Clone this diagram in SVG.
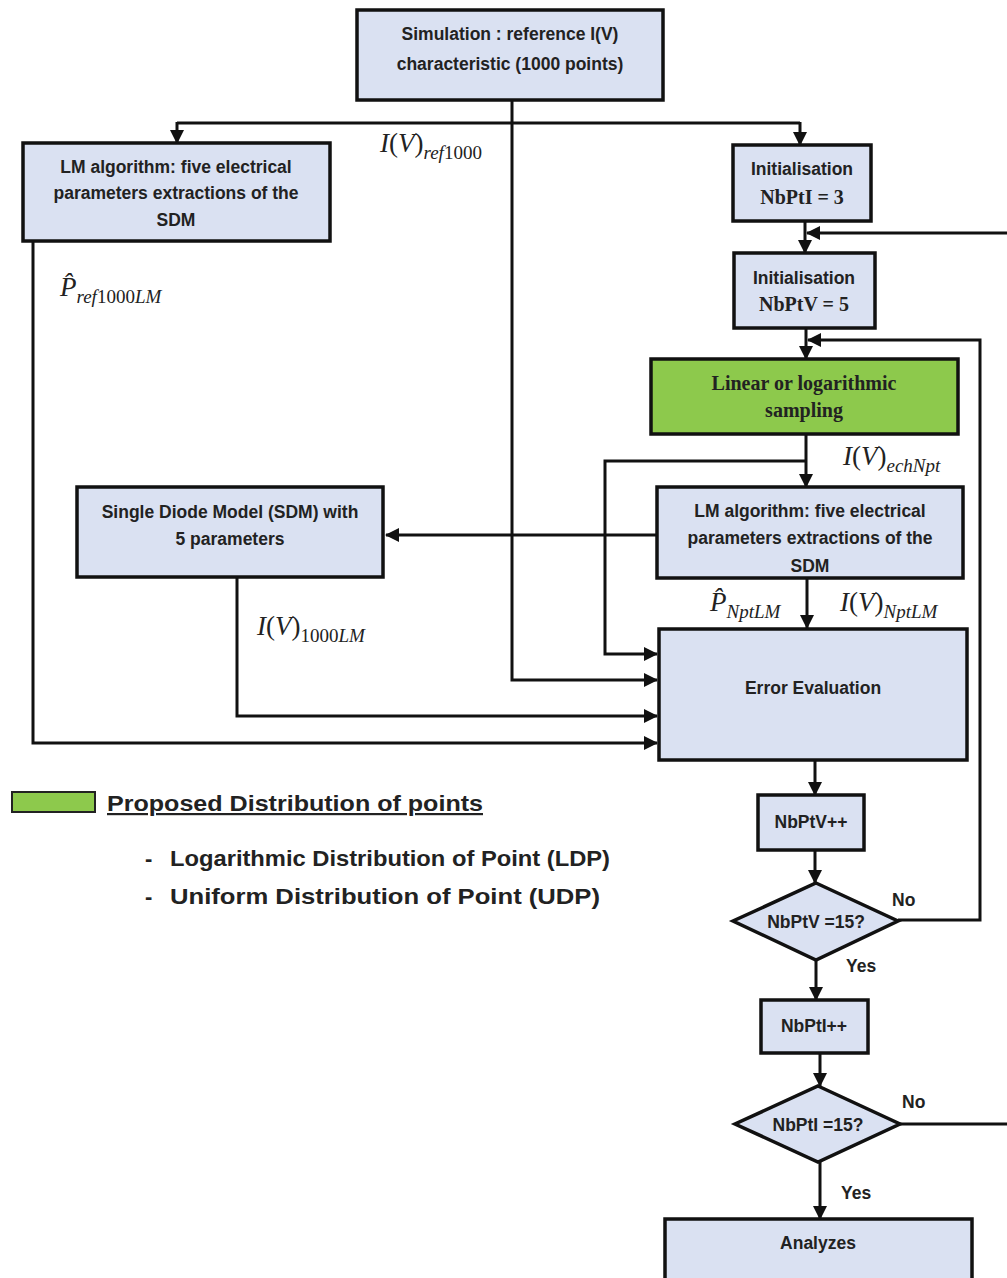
<svg xmlns="http://www.w3.org/2000/svg" width="1007" height="1278" viewBox="0 0 1007 1278">
<style>
.box{fill:#dae1f2;stroke:#111;stroke-width:3.5}
.green{fill:#8dc94c;stroke:#111;stroke-width:3.5}
.t{font-family:"Liberation Sans",Arial,sans-serif;font-weight:bold;font-size:17.5px;fill:#222;text-anchor:middle}
.s{font-family:"Liberation Serif","Times New Roman",serif;font-weight:bold;font-size:20px;fill:#222;text-anchor:middle}
.m{font-family:"Liberation Serif","Times New Roman",serif;font-size:27px;fill:#222}
.i{font-style:italic}
.sub{font-size:19px}
.lg{font-family:"Liberation Sans",Arial,sans-serif;font-weight:bold;font-size:22px;fill:#222}
.c{fill:none;stroke:#111;stroke-width:3}
</style>
<defs>
<marker id="ah" markerUnits="userSpaceOnUse" markerWidth="14" markerHeight="14" viewBox="0 0 14 14" refX="13" refY="7" orient="auto">
<path d="M0,0 L14,7 L0,14 z" fill="#111"/>
</marker>
</defs>
<rect width="1007" height="1278" fill="#fff"/>
<g id="connectors">
<polyline class="c" points="512,100 512,680 657,680" marker-end="url(#ah)"/>
<polyline class="c" points="177,123 800,123"/>
<polyline class="c" points="177,122 177,143" marker-end="url(#ah)"/>
<polyline class="c" points="800,122 800,145" marker-end="url(#ah)"/>
<polyline class="c" points="33,241 33,743 657,743" marker-end="url(#ah)"/>
<polyline class="c" points="805,221 805,253" marker-end="url(#ah)"/>
<polyline class="c" points="1007,233 807,233" marker-end="url(#ah)"/>
<polyline class="c" points="806,328 806,359" marker-end="url(#ah)"/>
<polyline class="c" points="898,920 980,920 980,340 808,340" marker-end="url(#ah)"/>
<polyline class="c" points="806,434 806,487" marker-end="url(#ah)"/>
<polyline class="c" points="806,461 605,461 605,654 657,654" marker-end="url(#ah)"/>
<polyline class="c" points="657,535 386,535" marker-end="url(#ah)"/>
<polyline class="c" points="237,577 237,716 657,716" marker-end="url(#ah)"/>
<polyline class="c" points="807,578 807,628" marker-end="url(#ah)"/>
<polyline class="c" points="815,760 815,795" marker-end="url(#ah)"/>
<polyline class="c" points="815,850 815,883" marker-end="url(#ah)"/>
<polyline class="c" points="816,960 816,1000" marker-end="url(#ah)"/>
<polyline class="c" points="820,1053 820,1086" marker-end="url(#ah)"/>
<polyline class="c" points="900,1124 1007,1124"/>
<polyline class="c" points="820,1162 820,1219" marker-end="url(#ah)"/>
</g>
<g id="sim">
<rect class="box" x="357" y="10" width="306" height="90"/>
<text class="t" x="510" y="40">Simulation : reference I(V)</text>
<text class="t" x="510" y="70">characteristic (1000 points)</text>
</g>
<g id="lm1">
<rect class="box" x="23" y="143" width="307" height="98"/>
<text class="t" x="176" y="173">LM algorithm: five electrical</text>
<text class="t" x="176" y="199">parameters extractions of the</text>
<text class="t" x="176" y="226">SDM</text>
</g>
<g id="init1">
<rect class="box" x="733" y="145" width="138" height="76"/>
<text class="t" x="802" y="175">Initialisation</text>
<text class="s" x="802" y="204">NbPtI = 3</text>
</g>
<g id="init2">
<rect class="box" x="734" y="253" width="141" height="75"/>
<text class="t" x="804" y="284">Initialisation</text>
<text class="s" x="804" y="311">NbPtV = 5</text>
</g>
<g id="sampling">
<rect class="green" x="651" y="359" width="307" height="75"/>
<text class="s" x="804" y="390" fill="#1c2a10">Linear or logarithmic</text>
<text class="s" x="804" y="417" fill="#1c2a10">sampling</text>
</g>
<g id="lm2">
<rect class="box" x="657" y="487" width="306" height="91"/>
<text class="t" x="810" y="517">LM algorithm: five electrical</text>
<text class="t" x="810" y="544">parameters extractions of the</text>
<text class="t" x="810" y="572">SDM</text>
</g>
<g id="sdm">
<rect class="box" x="77" y="487" width="306" height="90"/>
<text class="t" x="230" y="518">Single Diode Model (SDM) with</text>
<text class="t" x="230" y="545">5 parameters</text>
</g>
<g id="error">
<rect class="box" x="659" y="629" width="308" height="131"/>
<text class="t" x="813" y="694">Error Evaluation</text>
</g>
<g id="incv">
<rect class="box" x="758" y="795" width="106" height="55"/>
<text class="t" x="811" y="828">NbPtV++</text>
</g>
<g id="decv">
<polygon class="box" points="816,883 898,921 816,960 733,921"/>
<text class="t" x="816" y="928">NbPtV =15?</text>
<text class="t" x="892" y="906" style="text-anchor:start">No</text>
<text class="t" x="846" y="972" style="text-anchor:start">Yes</text>
</g>
<g id="inci">
<rect class="box" x="761" y="1000" width="107" height="53"/>
<text class="t" x="814" y="1032">NbPtI++</text>
</g>
<g id="deci">
<polygon class="box" points="818,1086 900,1124 818,1162 735,1124"/>
<text class="t" x="818" y="1131">NbPtI =15?</text>
<text class="t" x="902" y="1108" style="text-anchor:start">No</text>
<text class="t" x="841" y="1199" style="text-anchor:start">Yes</text>
</g>
<g id="analyzes">
<rect class="box" x="665" y="1219" width="307" height="62"/>
<text class="t" x="818" y="1249">Analyzes</text>
</g>
<g id="labels">
<text class="m" x="380" y="152"><tspan class="i">I</tspan>(<tspan class="i">V</tspan>)<tspan class="sub i" dy="7">ref</tspan><tspan class="sub">1000</tspan></text>
<text class="m" x="60" y="296"><tspan class="i">P&#x0302;</tspan><tspan class="sub i" dy="7">ref</tspan><tspan class="sub">1000</tspan><tspan class="sub i">LM</tspan></text>
<text class="m" x="843" y="465"><tspan class="i">I</tspan>(<tspan class="i">V</tspan>)<tspan class="sub i" dy="7">echNpt</tspan></text>
<text class="m" x="710" y="611"><tspan class="i">P&#x0302;</tspan><tspan class="sub i" dy="7">NptLM</tspan></text>
<text class="m" x="840" y="611"><tspan class="i">I</tspan>(<tspan class="i">V</tspan>)<tspan class="sub i" dy="7">NptLM</tspan></text>
<text class="m" x="257" y="635"><tspan class="i">I</tspan>(<tspan class="i">V</tspan>)<tspan class="sub" dy="7">1000</tspan><tspan class="sub i">LM</tspan></text>
</g>
<g id="legend">
<rect x="12" y="792" width="83" height="20" fill="#8dc94c" stroke="#222" stroke-width="2"/>
<text class="lg" x="107" y="811" text-decoration="underline" textLength="376" lengthAdjust="spacingAndGlyphs">Proposed Distribution of points</text>
<text class="lg" x="145" y="866">-</text>
<text class="lg" x="170" y="866" textLength="440" lengthAdjust="spacingAndGlyphs">Logarithmic Distribution of Point (LDP)</text>
<text class="lg" x="145" y="904">-</text>
<text class="lg" x="170" y="904" textLength="430" lengthAdjust="spacingAndGlyphs">Uniform Distribution of Point (UDP)</text>
</g>
</svg>
